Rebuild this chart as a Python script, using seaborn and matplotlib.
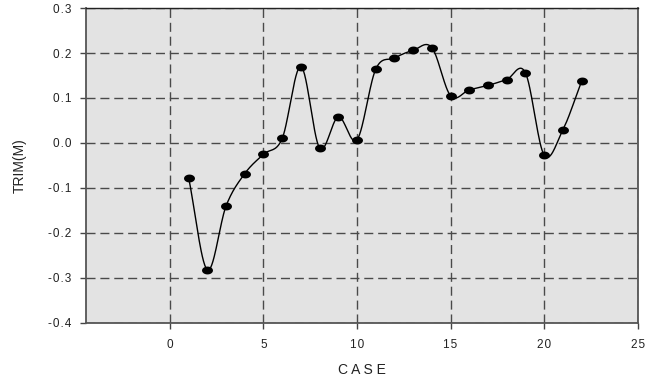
import numpy as np
import pandas as pd
import matplotlib
matplotlib.use("Agg")
import matplotlib.pyplot as plt
from matplotlib.path import Path
import seaborn as sns

# Trim per load case
case = [1, 2, 3, 4, 5, 6, 7, 8, 9, 10, 11, 12, 13, 14, 15, 16, 17, 18, 19, 20, 21, 22]
trim = [-0.077, -0.282, -0.140, -0.068, -0.025, 0.010, 0.170, -0.011, 0.058, 0.007,
        0.164, 0.189, 0.206, 0.212, 0.105, 0.118, 0.128, 0.141, 0.156, -0.027, 0.029, 0.137]
x_ticks = [0, 5, 10, 15, 20, 25]
y_ticks = [-0.4, -0.3, -0.2, -0.1, 0.0, 0.1, 0.2, 0.3]


def catmull_rom(xs, ys, n=30):
    """Smoothed line through the points (Catmull-Rom spline)."""
    xs = np.asarray(xs, float)
    ys = np.asarray(ys, float)
    px = np.concatenate([[2 * xs[0] - xs[1]], xs, [2 * xs[-1] - xs[-2]]])
    py = np.concatenate([[2 * ys[0] - ys[1]], ys, [2 * ys[-1] - ys[-2]]])
    t = np.linspace(0, 1, n, endpoint=False)
    out_x, out_y = [], []
    for i in range(1, len(px) - 2):
        for arr, out in ((px, out_x), (py, out_y)):
            p0, p1, p2, p3 = arr[i - 1], arr[i], arr[i + 1], arr[i + 2]
            out.append(0.5 * ((2 * p1) + (-p0 + p2) * t
                              + (2 * p0 - 5 * p1 + 4 * p2 - p3) * t ** 2
                              + (-p0 + 3 * p1 - 3 * p2 + p3) * t ** 3))
    out_x.append([xs[-1]])
    out_y.append([ys[-1]])
    return np.concatenate(out_x), np.concatenate(out_y)


def spaced(s):
    """Loosely tracked label text."""
    return "\u200a".join(s)


sns.set_theme(style="white")
plt.rcParams["font.family"] = ["Liberation Sans", "DejaVu Sans"]

df = pd.DataFrame({"CASE": case, "TRIM": trim})
sx, sy = catmull_rom(case, trim)
smooth = pd.DataFrame({"CASE": sx, "TRIM": sy})

fig = plt.figure(figsize=(6.47, 3.83), dpi=100)
ax = fig.add_axes([0.1325, 0.1567, 0.8531, 0.8224])
ax.set_facecolor("#e3e3e3")

ax.set_xlim(-4.5, 25)
ax.set_ylim(-0.4, 0.3)
ax.set_xticks(x_ticks)
ax.set_xticklabels([spaced(str(v)) for v in x_ticks])
ax.set_yticks(y_ticks)
ax.set_yticklabels([spaced(f"{v:.1f}") for v in y_ticks])

ax.grid(True, color="#4a4a4a", linestyle=(0, (6.5, 3.5)), linewidth=1.0)
ax.set_axisbelow(True)

sns.lineplot(data=smooth, x="CASE", y="TRIM", ax=ax, color="black",
             linewidth=1.0, sort=False, estimator=None)

theta = np.linspace(0, 2 * np.pi, 60)
ellipse = Path(np.column_stack([np.cos(theta), 0.72 * np.sin(theta)]), closed=True)
sns.scatterplot(data=df, x="CASE", y="TRIM", ax=ax, marker=ellipse, s=62,
                color="black", edgecolor="black", linewidth=0, zorder=5)

for side in ["left", "bottom", "right"]:
    ax.spines[side].set_color("#555555")
    ax.spines[side].set_linewidth(1.3)
ax.spines["top"].set_color("#222222")
ax.spines["top"].set_linewidth(1.0)

ax.tick_params(axis="both", which="major", direction="out", length=4.5, width=1.0,
               color="#444444", labelsize=8.5, labelcolor="#222222",
               bottom=True, left=True)
ax.tick_params(axis="y", pad=6)
ax.tick_params(axis="x", pad=7)

ax.set_xlabel("C A S E", fontsize=10, color="#222222", labelpad=9)
ax.set_ylabel("TRIM(M)", fontsize=10, color="#222222", labelpad=15)

fig.savefig("out.png", dpi=100)
